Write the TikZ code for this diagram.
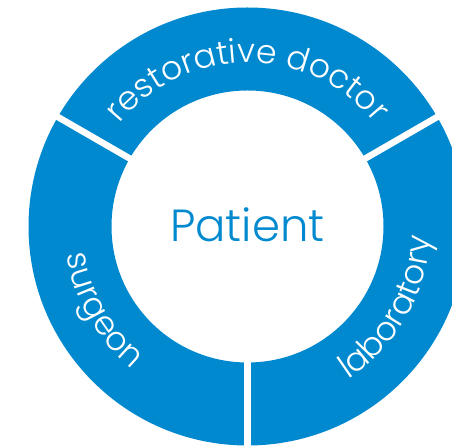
\documentclass[tikz,border=0pt]{standalone}
\usepackage{fontspec}
\setmainfont{Poppins}[UprightFont=* Light]
\usetikzlibrary{decorations.text}
\definecolor{ringblue}{RGB}{0,137,207}

\begin{document}
\begin{tikzpicture}[
      x=1pt, y=1pt,
      ring/.style = {fill=ringblue, even odd rule},
      gap/.style = {draw=white, line width=6.5pt},
      ring label/.style = {decoration={text along path, text align=center,
                           text color=white,
                           text={|\fontsize{33}{33}\selectfont|#1}},
                           decorate},
      centre label/.style = {text=ringblue, inner sep=0pt,
                             font=\fontsize{45}{45}\selectfont},
    ]
    \useasboundingbox (0,0) rectangle (452,446);
    \clip (0,0) rectangle (452,446);
    \coordinate (c) at (247.5,219.5);

    %% The blue ring
    \fill [ring] (c) circle [radius=219] (c) circle [radius=136];

    %% White cuts between the three parts
    \foreach \a in {30,150,270}{%
      \draw [gap] (c) ++(\a:130) -- ++(\a:100);
    }

    %% Names of the parts, set along the ring
    \path [ring label={restorative doctor}]
      (c) ++(150:164) arc [start angle=150, end angle=30, radius=164];
    \path [ring label={surgeon}]
      (c) ++(150:183) arc [start angle=150, end angle=270, radius=183];
    \path [ring label={laboratory}]
      (c) ++(270:183) arc [start angle=270, end angle=390, radius=183];

    %% The patient in the middle
    \node [centre label] (patient) at (247.5,221) {Patient};
  \end{tikzpicture}
\end{document}
